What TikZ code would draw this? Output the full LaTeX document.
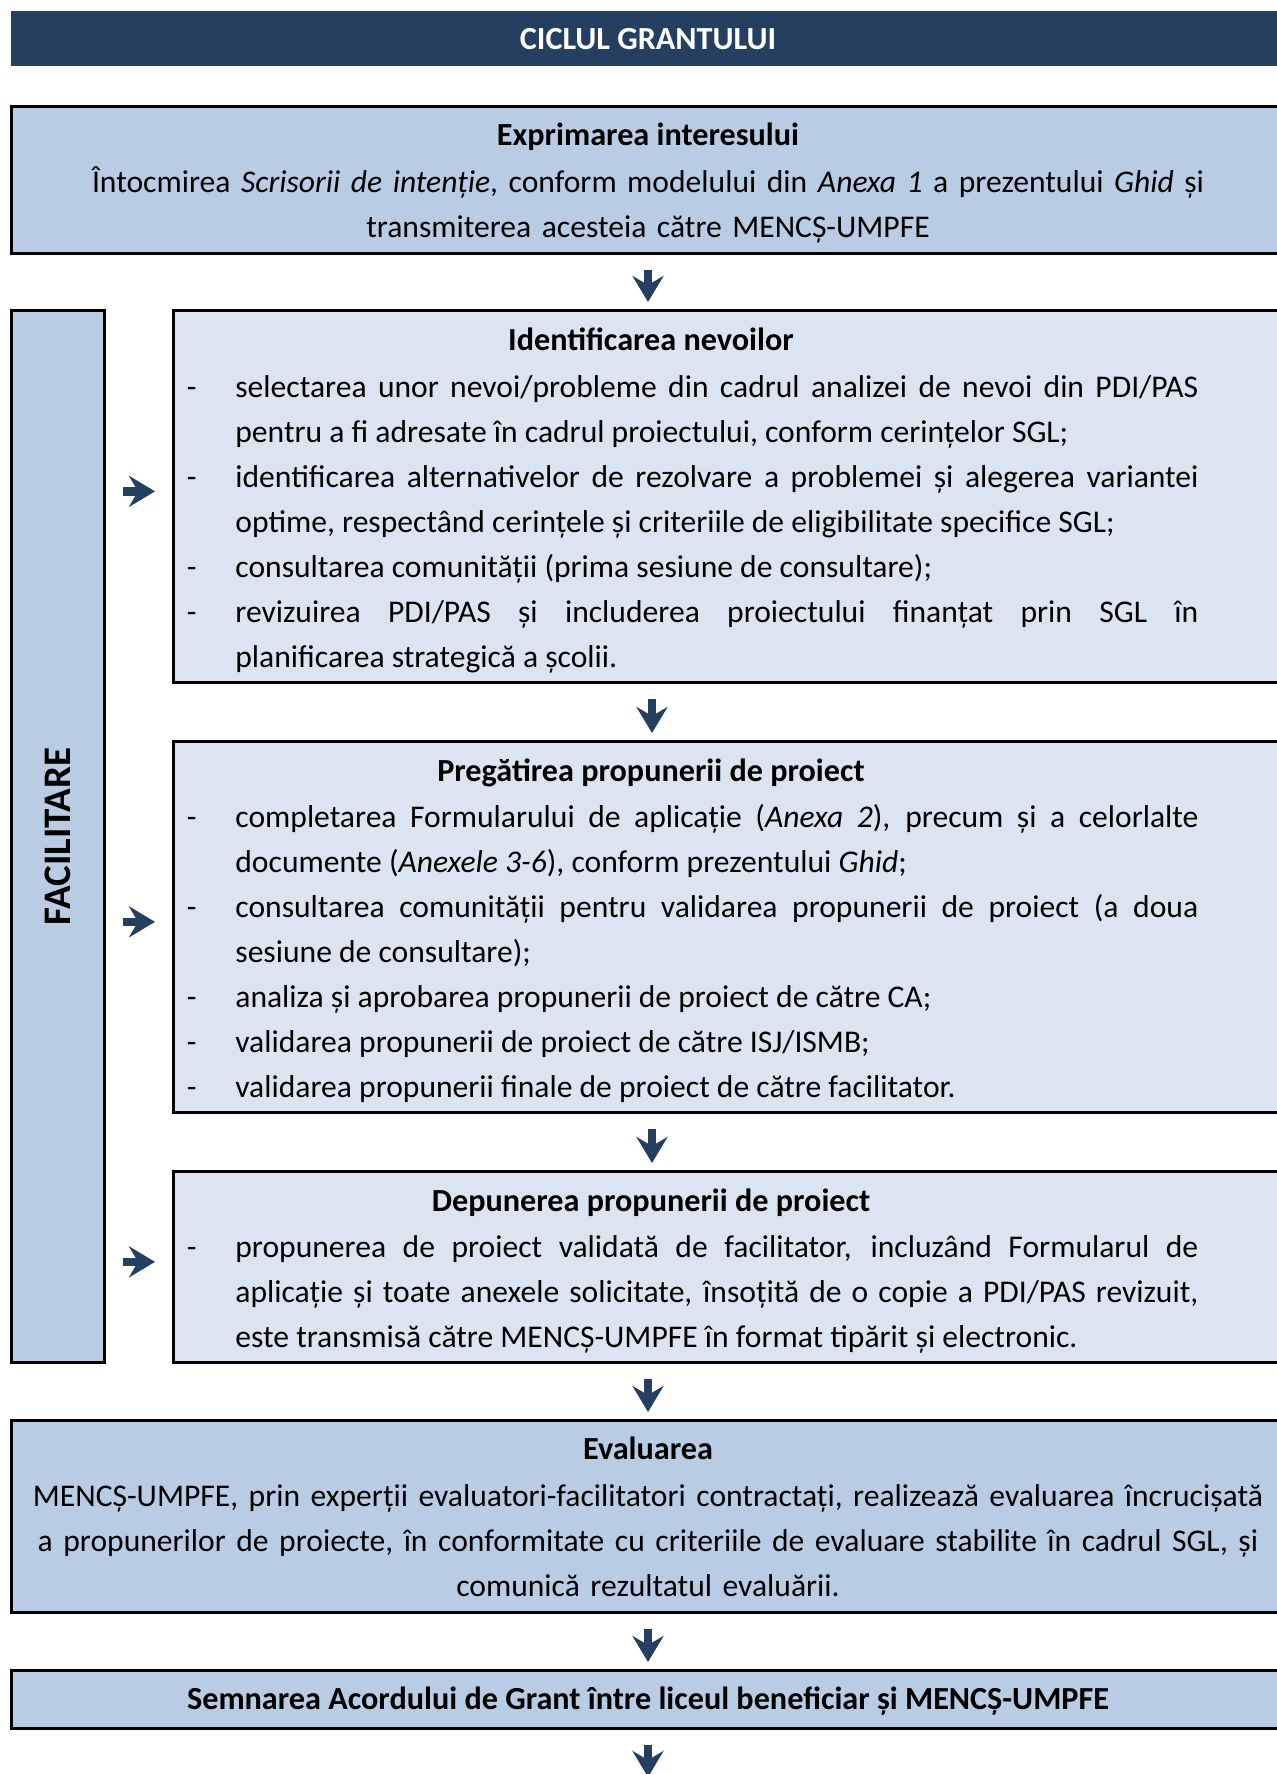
\documentclass[tikz,border=0pt]{standalone}
\usepackage{fontspec}
\setmainfont{Carlito}
\usetikzlibrary{arrows.meta}

\definecolor{barblue}{HTML}{243F60}
\definecolor{stepblue}{HTML}{B8CCE4}
\definecolor{subblue}{HTML}{DBE5F1}

\newcommand{\boxfont}{\fontsize{15.8pt}{22.5pt}\selectfont}
\newcommand{\headfont}{\fontsize{16.1pt}{22.5pt}\selectfont\bfseries}
\newcommand{\dashitem}[1]{\noindent\hangindent=26.5pt\hangafter=1\makebox[26.5pt][l]{\hspace{2.2pt}-}#1\par}

\begin{document}
\begin{tikzpicture}[x=0.5pt, y=-0.5pt,
    every node/.style={font=\boxfont},
    stepbox/.style={rectangle, draw=black, line width=1.35pt, fill=stepblue, inner sep=0pt, anchor=north west, minimum width=638pt},
    subbox/.style={stepbox, fill=subblue, minimum width=559pt},
    headline/.style={anchor=base, inner sep=0pt, font=\headfont},
    bodytext/.style={anchor=base, inner sep=0pt, text width=630pt, align=center},
    dashlist/.style={anchor=base west, inner sep=0pt, text width=508pt, align=justify,
      execute at begin node={\tolerance=9999\hyphenpenalty=10000\emergencystretch=20pt}},
    godown/.style={barblue, line width=4.3pt, -{Stealth[length=13pt, width=15.5pt, inset=4.5pt]}, shorten <=7.5pt, shorten >=3.5pt},
    goright/.style={godown, shorten <=8.5pt, shorten >=8.5pt}]

  \useasboundingbox (0,0) rectangle (1276,1774);
  \coordinate (axis) at (648,0);
  \coordinate (subaxis) at (652,0);

  \node[stepbox, fill=barblue, draw=none, minimum height=27.5pt] (bar) at (10,10) {};
  \node[headline, text=white] (bartext) at (648,49) {CICLUL GRANTULUI};

  \node[stepbox, minimum height=73.5pt] (expr) at (10,105) {};
  \node[headline] (exprhead) at (648,145) {Exprimarea interesului};
  \node[bodytext] (exprtext) at (648,192) {Întocmirea \textit{Scrisorii de intenție}, conform modelului din \textit{Anexa 1} a prezentului \textit{Ghid} și\\
    transmiterea acesteia către MENCȘ-UMPFE};

  \node[stepbox, minimum width=46.5pt, minimum height=526pt] (fac) at (10,309) {};
  \node[headline, anchor=center, rotate=90, font=\fontsize{19.5pt}{22.5pt}\selectfont\bfseries] (factext) at (fac.center) {FACILITARE};

  \node[subbox, minimum height=186pt] (needs) at (172,309) {};
  \node[headline] (needshead) at (651,350) {Identificarea nevoilor};
  \node[dashlist] (needslist) at (182,397) {%
    \dashitem{selectarea unor nevoi/probleme din cadrul analizei de nevoi din PDI/PAS\linebreak pentru a fi adresate în cadrul proiectului, conform cerințelor SGL;}
    \dashitem{identificarea alternativelor de rezolvare a problemei și alegerea variantei\linebreak optime, respectând cerințele și criteriile de eligibilitate specifice SGL;}
    \dashitem{consultarea comunității (prima sesiune de consultare);}
    \dashitem{revizuirea PDI/PAS și includerea proiectului finanțat prin SGL în\linebreak planificarea strategică a școlii.}};

  \node[subbox, minimum height=185.5pt] (prep) at (172,740) {};
  \node[headline] (prephead) at (651,781) {Pregătirea propunerii de proiect};
  \node[dashlist] (preplist) at (182,827) {%
    \dashitem{completarea Formularului de aplicație (\textit{Anexa 2}), precum și a celorlalte\linebreak documente (\textit{Anexele 3-6}), conform prezentului \textit{Ghid};}
    \dashitem{consultarea comunității pentru validarea propunerii de proiect (a doua\linebreak sesiune de consultare);}
    \dashitem{analiza și aprobarea propunerii de proiect de către CA;}
    \dashitem{validarea propunerii de proiect de către ISJ/ISMB;}
    \dashitem{validarea propunerii finale de proiect de către facilitator.}};

  \node[subbox, minimum height=95.5pt] (submit) at (172,1170) {};
  \node[headline] (submithead) at (651,1211) {Depunerea propunerii de proiect};
  \node[dashlist] (submitlist) at (182,1257) {%
    \dashitem{propunerea de proiect validată de facilitator, incluzând Formularul de\linebreak aplicație și toate anexele solicitate, însoțită de o copie a PDI/PAS revizuit,\linebreak este transmisă către MENCȘ-UMPFE în format tipărit și electronic.}};

  \node[stepbox, minimum height=96pt] (review) at (10,1419) {};
  \node[headline] (reviewhead) at (648,1459) {Evaluarea};
  \node[bodytext] (reviewtext) at (648,1506) {MENCȘ-UMPFE, prin experții evaluatori-facilitatori contractați, realizează evaluarea încrucișată\\
    a propunerilor de proiecte, în conformitate cu criteriile de evaluare stabilite în cadrul SGL, și\\
    comunică rezultatul evaluării.};

  \node[stepbox, minimum height=29pt] (sign) at (10,1669) {};
  \node[headline] (signtext) at (648,1709) {Semnarea Acordului de Grant între liceul beneficiar și MENCȘ-UMPFE};
  \coordinate (next) at (648,1784);

  \draw[godown] (expr.south -| axis) -- (needs.north -| axis);
  \draw[godown] (needs.south -| subaxis) -- (prep.north -| subaxis);
  \draw[godown] (prep.south -| subaxis) -- (submit.north -| subaxis);
  \draw[godown] (submit.south -| axis) -- (review.north -| axis);
  \draw[godown] (review.south -| axis) -- (sign.north -| axis);
  \draw[godown] (sign.south -| axis) -- (next);

  \draw[goright] ([yshift=2.5pt]fac.east |- needs.west) -- ([yshift=2.5pt]needs.west);
  \draw[goright] ([yshift=2.5pt]fac.east |- prep.west) -- ([yshift=2.5pt]prep.west);
  \draw[goright] ([yshift=2.5pt]fac.east |- submit.west) -- ([yshift=2.5pt]submit.west);
\end{tikzpicture}
\end{document}
